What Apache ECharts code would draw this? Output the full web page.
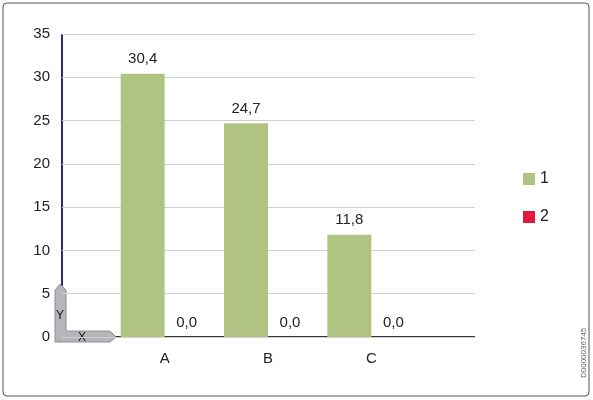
<!DOCTYPE html>
<html><head><meta charset="utf-8">
<script src="https://cdn.jsdelivr.net/npm/echarts@6/dist/echarts.min.js"></script>
<style>html,body{margin:0;background:#fff}#c{width:593px;height:400px}</style>
</head><body><div id="c"></div>
<script>
var categories = ['A', 'B', 'C'];
var series1 = [30.4, 24.7, 11.8];
var series2 = [0, 0, 0];
var yTicks = { min: 0, max: 35, interval: 5 };

var fmt = function (p) { return p.value.toFixed(1).replace('.', ','); };
var lbl = { show: true, position: 'top', color: '#222', fontSize: 15, distance: 7, formatter: fmt, fontFamily: 'Liberation Sans' };

var myChart = echarts.init(document.querySelector('#c'));
option = {
  animation: false,
  textStyle: { fontFamily: 'Liberation Sans' },
  grid: [
    { left: 62, right: 118, top: 34, bottom: 63 },
    { left: 113, width: 310, top: 34, bottom: 63 }
  ],
  xAxis: [
    { gridIndex: 0, type: 'value', min: 0, max: 1, show: false },
    { gridIndex: 1, type: 'category', data: categories, axisLine: { show: false }, axisTick: { show: false },
      axisLabel: { color: '#222', fontSize: 15, margin: 14 } }
  ],
  yAxis: [
    { gridIndex: 0, type: 'value', min: yTicks.min, max: yTicks.max, interval: yTicks.interval,
      axisLine: { show: false }, axisTick: { show: false },
      axisLabel: { color: '#222', fontSize: 15, margin: 12 },
      splitLine: { lineStyle: { color: '#d0d0d0' } } },
    { gridIndex: 1, type: 'value', min: yTicks.min, max: yTicks.max, interval: yTicks.interval, show: false, splitLine: { show: false } }
  ],
  legend: {
    orient: 'vertical', left: 518, top: 166, itemGap: 22, itemWidth: 12, itemHeight: 12,
    icon: 'rect', textStyle: { fontSize: 16, color: '#222' }, data: ['1', '2']
  },
  series: [
    { name: '1', type: 'bar', xAxisIndex: 1, yAxisIndex: 1, data: series1, barWidth: 44, barGap: '0%',
      itemStyle: { color: '#b1c383' }, label: lbl },
    { name: '2', type: 'bar', xAxisIndex: 1, yAxisIndex: 1, data: series2, barWidth: 44, barGap: '0%',
      itemStyle: { color: '#e2173d' }, label: lbl }
  ],
  graphic: [
    { type: 'rect', shape: { x: 3, y: 3, width: 586, height: 393, r: 4 }, style: { fill: 'none', stroke: '#555', lineWidth: 1 } },
    { type: 'line', shape: { x1: 62, y1: 34, x2: 62, y2: 290 }, style: { stroke: '#2b2e6e', lineWidth: 2 } },
    { type: 'line', shape: { x1: 110, y1: 337, x2: 475, y2: 337 }, style: { stroke: '#333', lineWidth: 2 } },
    { type: 'polygon', shape: { points: [[55, 290], [60, 284], [66, 290], [66, 331], [110, 331], [116, 337], [110, 342], [55, 342]] },
      style: { fill: '#b4b6b9', stroke: '#8c8e91' } },
    { type: 'text', left: 56, top: 310, style: { text: 'Y', fontSize: 12, fill: '#111', fontFamily: 'Liberation Sans' } },
    { type: 'text', left: 78, top: 332, style: { text: 'X', fontSize: 12, fill: '#111', fontFamily: 'Liberation Sans' } },
    { type: 'text', x: 580, y: 378, rotation: Math.PI / 2, style: { text: 'D0000036745', fontSize: 8, fill: '#666', fontFamily: 'Liberation Sans' } }
  ]
};
myChart.setOption(option);
</script></body></html>
